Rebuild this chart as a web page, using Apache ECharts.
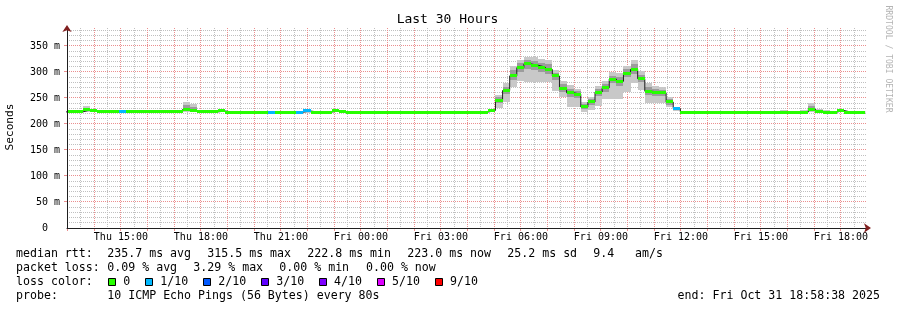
<!DOCTYPE html>
<html><head><meta charset="utf-8">
<script src="https://cdn.jsdelivr.net/npm/echarts@6.0.0/dist/echarts.min.js"></script>
<style>html,body{margin:0;padding:0;background:#fff}#c{width:897px;height:310px}</style>
</head><body><div id="c"></div>
<script>
// ---------------- data ----------------
// time in hours since Thu 00:00
const START_HOUR = 12 + 58/60 + 38/3600;      // Thu 12:58:38
const END_HOUR = START_HOUR + 30;             // Fri 18:58:38
const BIN0_START = 12 + 46/60 + 40/3600;      // first 16-minute consolidation bin
const BIN_HOURS = 16/60;

// median rtt (ms) for each 16-minute bin
const median = [
  223.3,223.3,223.3,227.0,225.2,223.3,223.3,223.3,223.3,223.3,
  223.3,223.3,223.6,223.3,223.3,223.3,223.3,228.0,225.6,224.8,
  223.3,223.3,225.0,223.0,223.0,223.0,223.0,223.0,223.0,223.0,
  223.0,223.0,223.0,223.0,225.0,223.0,223.0,223.0,225.0,223.6,
  223.0,223.0,223.0,223.0,223.0,223.0,223.0,223.0,223.0,223.0,
  223.0,223.0,223.0,223.0,223.0,223.0,223.0,223.0,223.0,223.0,
  226.0,246.0,264.4,292.6,308.3,315.5,313.0,309.6,305.0,292.3,
  269.0,260.0,257.3,232.7,242.3,261.5,269.6,286.5,282.0,297.0,
  305.0,287.0,263.0,261.5,260.0,242.3,229.5,
  223.0,223.0,223.0,223.0,223.0,223.0,223.0,223.0,223.0,223.0,223.0,223.0,223.0,223.0,
  223.0,223.0,223.0,223.0,228.5,223.6,223.0,222.8,226.0,
  223.0,223.0,223.0
];

// bins with packet loss (level in tenths)
const lossBins   = [8, 29, 33, 34, 86];
const lossLevels = [1, 1, 1, 1, 1];

// smoke: outer spread of the pings per bin
const smokeBins = [2,3,4,12,13,15,17,18,19,20,22,34,39,40,
  60,61,62,63,64,65,66,67,68,69,70,71,72,73,74,75,76,77,78,79,80,81,82,83,84,85,86,
  101,104,105,106,107,109];
const smokeLo = [223.3,224,223.5,223.3,223.3,223.3,224,223.5,223.3,223.3,223.5,222,221,220.5,
  224,230,243,272,283,281,281,281,281,264,252.5,233,233,224,227,235,249,249,249,262,278,265,240,240,240,232,225,
  223,223,224,222.5,223,224];
const smokeHi = [226,234,229,227,226,226,242,239,227.5,226,226.5,226.5,224,223,
  228.5,256,279,311.5,324,329,329,325,323,304,283,275,267,243,252.5,273,283,300.6,297.5,311.5,323,302,279.5,273,272,252,233,
  226,226,240,229,226,228.5];

// smoke: inner (denser) spread
const innerBins = [3,12,17,18,
  60,61,62,63,64,65,66,67,68,69,70,71,72,73,74,75,76,77,78,79,80,81,82,83,84,85,86,105];
const innerLo = [225,223.6,226,224.5,
  225,240,258,285,300,305,303,300,296,285,262,252,250,228,236,254,262,278,274,290,296,280,255,254,254,237,227,226];
const innerHi = [231,226,236,233,
  227.5,252,272,304,318,324,322,318,315,298,276,268,263,238,248,268,277,293,290,305,315,295,272,267,266,248,231,235];

// axes
const xLabelHours = [15,18,21,24,27,30,33,36,39,42];
const yTickValues = [0,50,100,150,200,250,300,350];
const Y_MAX = 384.6;

// legend
const lossColors = ['#26ff00','#00b8ff','#0059ff','#5e00ff','#7e00ff','#dd00ff','#ff0000'];
const lossColorLabels = ['0','1/10','2/10','3/10','4/10','5/10','9/10'];
const rttStats = ['235.7 ms avg','315.5 ms max','222.8 ms min','223.0 ms now','25.2 ms sd','9.4','am/s'];
const lossStats = ['0.09 % avg','3.29 % max','0.00 % min','0.00 % now'];
const probeText = '10 ICMP Echo Pings (56 Bytes) every 80s';
const endText = 'end: Fri Oct 31 18:58:38 2025';
const titleText = 'Last 30 Hours';

// ---------------- layout / styles ----------------
const PLOT = {left: 67, top: 28, width: 800, height: 200};
const PX_PER_HOUR = PLOT.width / 30;
const MONO = '"DejaVu Sans Mono", "Liberation Mono", monospace';
const MAJOR = '#eb8f8f';
const MINOR = '#c0c0c0';
const AXIS = '#1f1f1f';
const ARROW = '#801f1f';
const LEG_FONT = '11.6px ' + MONO;

// grid line positions (axis values)
const majorX = [], minorX = [], majorY = [], minorY = [];
for (let h = 13; h <= 42; h += 1) { majorX.push(h); minorX.push(h + 0.5); }
for (let v = 10; v <= 380; v += 10) { (v % 50 === 0 ? majorY : minorY).push(v); }

const binStart = i => BIN0_START + i * BIN_HOURS;
const lossOf = i => { const k = lossBins.indexOf(i); return k < 0 ? 0 : lossLevels[k]; };

const outerData = smokeBins.map((b, k) => [binStart(b), binStart(b + 1), smokeLo[k], smokeHi[k]]);
const innerData = innerBins.map((b, k) => [binStart(b), binStart(b + 1), innerLo[k], innerHi[k]]);
const bandData = median.map((v, i) => [binStart(i), binStart(i + 1), v, lossOf(i)]);
const stepData = median.map((v, i) => [binStart(i), v]);
stepData.push([binStart(median.length), median[median.length - 1]]);

function rectRenderer(fill) {
  return function (params, api) {
    const x0 = Math.max(api.value(0), START_HOUR), x1 = Math.min(api.value(1), END_HOUR);
    if (x1 <= x0) return null;
    const a = api.coord([x0, api.value(3)]), b = api.coord([x1, api.value(2)]);
    const l = Math.round(a[0]), r = Math.round(b[0]);
    const t = Math.round(a[1]), bt = Math.round(b[1]);
    return {type: 'rect', shape: {x: l, y: t, width: r - l, height: Math.max(bt - t, 1)}, style: {fill: fill}};
  };
}
function bandRenderer(params, api) {
  const x0 = Math.max(api.value(0), START_HOUR), x1 = Math.min(api.value(1), END_HOUR);
  if (x1 <= x0) return null;
  const a = api.coord([x0, api.value(2)]), b = api.coord([x1, api.value(2)]);
  const l = Math.round(a[0]), r = Math.round(b[0]);
  return {type: 'rect', shape: {x: l, y: Math.round(a[1] - 1.5), width: r - l, height: 3},
          style: {fill: lossColors[api.value(3)]}};
}
function vLineRenderer(color, tickLen) {
  return function (params, api) {
    const x = Math.floor(api.coord([api.value(0), 0])[0]) + 0.5;
    const children = [{type: 'line', shape: {x1: x, y1: PLOT.top, x2: x, y2: PLOT.top + PLOT.height},
      style: {stroke: color, lineWidth: 1, lineDash: [1, 1]}}];
    if (tickLen) children.push({type: 'line', shape: {x1: x, y1: PLOT.top + PLOT.height, x2: x, y2: PLOT.top + PLOT.height + tickLen},
      style: {stroke: color, lineWidth: 1}});
    return {type: 'group', children: children};
  };
}
function hLineRenderer(color, tickLen) {
  return function (params, api) {
    const y = Math.floor(api.coord([START_HOUR, api.value(0)])[1]) + 0.5;
    const children = [{type: 'line', shape: {x1: PLOT.left, y1: y, x2: PLOT.left + PLOT.width, y2: y},
      style: {stroke: color, lineWidth: 1, lineDash: [1, 1]}}];
    if (tickLen) children.push({type: 'line', shape: {x1: PLOT.left - tickLen, y1: y, x2: PLOT.left, y2: y},
      style: {stroke: color, lineWidth: 1}});
    return {type: 'group', children: children};
  };
}

const hourLabel = h => (h < 24 ? 'Thu ' : 'Fri ') + String(h % 24).padStart(2, '0') + ':00';
const noAxisParts = {axisLine: {show: false}, axisTick: {show: false}, axisLabel: {show: false}, splitLine: {show: false}};

// ---------------- graphic texts ----------------
const graphics = [];
function txt(x, y, text, align) {
  graphics.push({type: 'text', x: x, y: y, silent: true,
    style: {text: text, font: LEG_FONT, fill: '#000', align: align || 'left', verticalAlign: 'middle'}});
}
graphics.push({type: 'text', x: 447.5, y: 19.5, silent: true,
  style: {text: titleText, font: '13px ' + MONO, fill: '#000', align: 'center', verticalAlign: 'middle'}});
graphics.push({type: 'text', x: 10.5, y: 127, rotation: Math.PI / 2, silent: true,
  style: {text: 'Seconds', font: '11.2px ' + MONO, fill: '#000', align: 'center', verticalAlign: 'middle'}});
graphics.push({type: 'text', x: 888, y: 59, rotation: -Math.PI / 2, silent: true,
  style: {text: 'RRDTOOL / TOBI OETIKER', font: '8.1px ' + MONO, fill: '#b4b4b4', align: 'center', verticalAlign: 'middle'}});

const rttX = [107.3, 207.3, 307.3, 407.3, 507.3, 593.3, 635];
txt(16, 254, 'median rtt:');
rttStats.forEach((s, i) => txt(rttX[i], 254, s));
const lossX = [107.3, 193.3, 279.3, 366];
txt(16, 268, 'packet loss:');
lossStats.forEach((s, i) => txt(lossX[i], 268, s));
txt(16, 282, 'loss color:');
const boxX = [108.5, 145.5, 203.5, 261.5, 319.5, 377.5, 435.5];
const boxLabelX = [123.3, 160.3, 218.3, 276.3, 334, 392, 450];
lossColors.forEach((c, i) => {
  graphics.push({type: 'rect', silent: true, shape: {x: boxX[i], y: 278.5, width: 7, height: 7},
    style: {fill: c, stroke: '#000', lineWidth: 1}});
  txt(boxLabelX[i], 282, lossColorLabels[i]);
});
txt(16, 296, 'probe:');
txt(107.3, 296, probeText);
txt(880, 296, endText, 'right');

// ---------------- chart ----------------
const gridBase = {outerBoundsMode: 'none', containLabel: false, top: PLOT.top, height: PLOT.height};
const chart = echarts.init(document.getElementById('c'), null, {renderer: 'canvas'});
const lineSeries = (data, renderer, z, dimY) => ({type: 'custom', xAxisIndex: 0, yAxisIndex: 0, z: z, silent: true,
  encode: dimY ? {y: 0} : {x: 0}, data: data.map(v => [v]), renderItem: renderer});
chart.setOption({
  animation: false,
  backgroundColor: '#ffffff',
  grid: [
    Object.assign({}, gridBase, {left: PLOT.left, width: PLOT.width}),
    Object.assign({}, gridBase, {left: PLOT.left - (START_HOUR - 12) * PX_PER_HOUR, width: 33 * PX_PER_HOUR})
  ],
  xAxis: [
    Object.assign({}, noAxisParts, {gridIndex: 0, type: 'value', position: 'bottom', min: START_HOUR, max: END_HOUR, z: 10,
      axisLine: {show: true, onZero: false, lineStyle: {color: AXIS, width: 1}}}),
    Object.assign({}, noAxisParts, {gridIndex: 0, type: 'value', position: 'bottom', min: START_HOUR, max: END_HOUR, z: 10,
      axisLine: {show: true, onZero: false, symbol: ['none', 'arrow'], symbolSize: [7, 7], symbolOffset: [0, 4],
        lineStyle: {color: ARROW, width: 0}}}),
    Object.assign({}, noAxisParts, {gridIndex: 1, type: 'value', position: 'bottom', min: 12, max: 45, interval: 3,
      axisLabel: {show: true, margin: 4, color: '#000', fontSize: 10, fontFamily: MONO,
        showMinLabel: true, showMaxLabel: true,
        formatter: v => xLabelHours.indexOf(v) >= 0 ? hourLabel(v) : ''}})
  ],
  yAxis: [
    Object.assign({}, noAxisParts, {gridIndex: 0, type: 'value', position: 'left', min: 0, max: Y_MAX, interval: 50, z: 10,
      axisLine: {show: true, onZero: false, lineStyle: {color: AXIS, width: 1}},
      axisLabel: {show: true, margin: 7, color: '#000', fontSize: 10, fontFamily: MONO, customValues: yTickValues,
        formatter: v => yTickValues.indexOf(v) < 0 ? '' : (v === 0 ? '0  ' : v + ' m')}}),
    Object.assign({}, noAxisParts, {gridIndex: 0, type: 'value', position: 'left', min: 0, max: Y_MAX, z: 10,
      axisLine: {show: true, onZero: false, symbol: ['none', 'arrow'], symbolSize: [7, 7], symbolOffset: [0, 3],
        lineStyle: {color: ARROW, width: 0}}}),
    {gridIndex: 1, type: 'value', min: 0, max: 1, show: false}
  ],
  series: [
    lineSeries(minorX, vLineRenderer(MINOR, 0), 1, false),
    lineSeries(minorY, hLineRenderer(MINOR, 0), 1, true),
    lineSeries(majorX, vLineRenderer(MAJOR, 3), 2, false),
    lineSeries(majorY, hLineRenderer(MAJOR, 3), 2, true),
    {type: 'custom', xAxisIndex: 0, yAxisIndex: 0, z: 4, silent: true,
     encode: {x: [0, 1], y: [2, 3]}, data: outerData, renderItem: rectRenderer('#c8c8c8')},
    {type: 'custom', xAxisIndex: 0, yAxisIndex: 0, z: 5, silent: true,
     encode: {x: [0, 1], y: [2, 3]}, data: innerData, renderItem: rectRenderer('#9c9c9c')},
    {type: 'line', xAxisIndex: 0, yAxisIndex: 0, z: 6, silent: true, step: 'end', symbol: 'none',
     data: stepData, lineStyle: {color: AXIS, width: 1}},
    {type: 'custom', xAxisIndex: 0, yAxisIndex: 0, z: 7, silent: true,
     encode: {x: [0, 1], y: 2}, data: bandData, renderItem: bandRenderer}
  ],
  graphic: graphics
});
</script>
</body></html>
